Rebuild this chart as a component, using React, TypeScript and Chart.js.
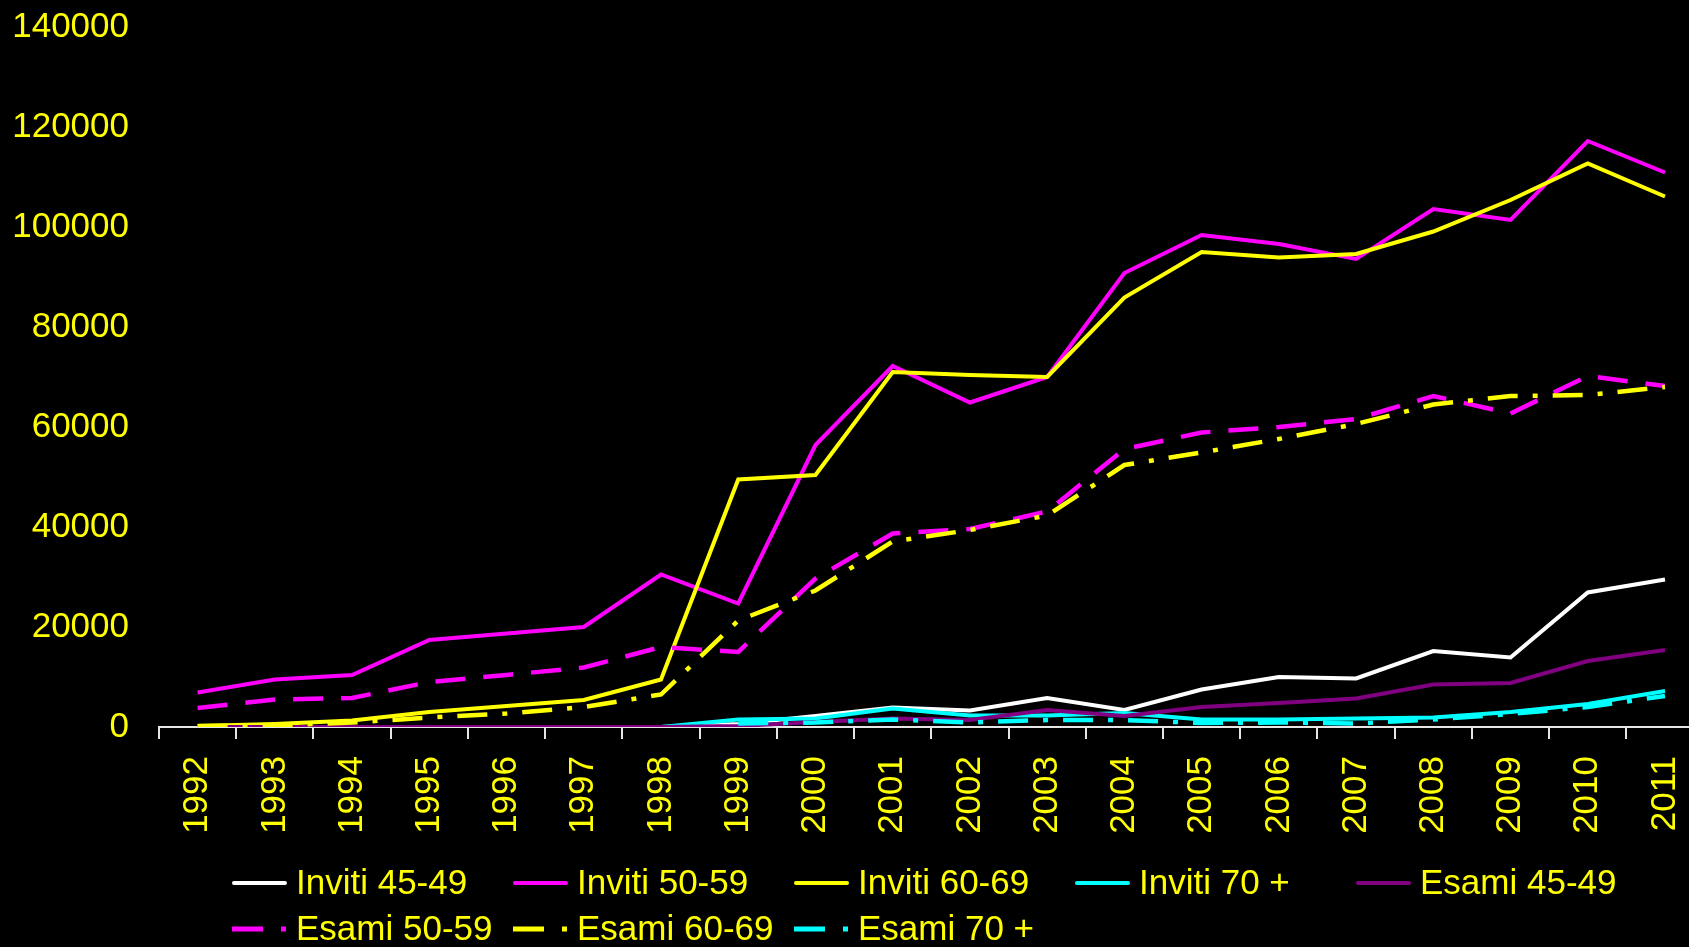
import React, { useEffect, useRef } from "react";
import { Chart, registerables } from "chart.js";

Chart.register(...registerables);

const years = ["1992","1993","1994","1995","1996","1997","1998","1999","2000","2001","2002","2003","2004","2005","2006","2007","2008","2009","2010","2011"];

const inviti4549 = [null, null, null, null, null, null, 0, 600, 2200, 3900, 3300, 5800, 3400, 7500, 10000, 9700, 15200, 13900, 26900, 29500];
const inviti5059 = [6900, 9500, 10400, 17400, 18700, 20000, 30500, 24700, 56400, 72200, 64900, 70000, 90800, 98400, 96600, 93600, 103600, 101400, 117200, 110900];
const inviti6069 = [200, 600, 1300, 3000, 4200, 5400, 9500, 49500, 50400, 71000, 70400, 70000, 85900, 95000, 93900, 94600, 99100, 105400, 112700, 106100];
const inviti70 = [null, null, null, null, null, null, 0, 1500, 1700, 3700, 2300, 2300, 2800, 1500, 1500, 1700, 1900, 3000, 4600, 7200];
const esami4549 = [0, 0, 0, 0, 0, 0, 0, 200, 1000, 1700, 1400, 3400, 2200, 4000, 4800, 5700, 8500, 8800, 13200, 15400];
const esami5059 = [3800, 5500, 5800, 9000, 10400, 11900, 16000, 15000, 29700, 38700, 39600, 43100, 55600, 58900, 60000, 61600, 66200, 62700, 70200, 68200];
const esami6069 = [200, 300, 900, 1900, 2700, 4000, 6500, 21300, 27300, 37100, 39400, 42300, 52400, 54900, 57600, 60600, 64500, 66200, 66400, 68000];
const esami70 = [null, null, null, null, null, null, null, 700, 900, 1500, 900, 1400, 1400, 800, 900, 700, 1500, 2600, 4000, 6200];

const seriesNames = ["Inviti 45-49", "Inviti 50-59", "Inviti 60-69", "Inviti 70 +", "Esami 45-49", "Esami 50-59", "Esami 60-69", "Esami 70 +"];
const yTickValues = [0, 20000, 40000, 60000, 80000, 100000, 120000, 140000];

const FONT = "'Liberation Sans', Arial, sans-serif";
const YELLOW = "#FFFF00";
const AXIS = "#E6E6E6";

const styles = [
  { color: "#FFFFFF", dash: [] as number[] },
  { color: "#FF00FF", dash: [] as number[] },
  { color: "#FFFF00", dash: [] as number[] },
  { color: "#00FFFF", dash: [] as number[] },
  { color: "#800080", dash: [] as number[] },
  { color: "#FF00FF", dash: [30, 18] },
  { color: "#FFFF00", dash: [30, 15, 5, 15] },
  { color: "#00FFFF", dash: [30, 15, 5, 15] },
];

const seriesData = [inviti4549, inviti5059, inviti6069, inviti70, esami4549, esami5059, esami6069, esami70];

const legendPlugin = {
  id: "customLegend",
  afterDraw(chart: any) {
    const ctx = chart.ctx as CanvasRenderingContext2D;
    const colX = [232, 513, 794, 1075, 1356];
    const rowY = [883, 929];
    ctx.save();
    seriesNames.forEach((name, i) => {
      const row = i < 5 ? 0 : 1;
      const col = i < 5 ? i : i - 5;
      const x = colX[col];
      const y = rowY[row];
      const st = styles[i];
      ctx.strokeStyle = st.color;
      if (st.dash.length === 0) {
        ctx.lineWidth = 4;
        ctx.lineCap = "round";
        ctx.beginPath();
        ctx.moveTo(x + 2, y);
        ctx.lineTo(x + 53, y);
        ctx.stroke();
      } else {
        ctx.lineWidth = 5;
        ctx.lineCap = "butt";
        ctx.beginPath();
        ctx.moveTo(x, y);
        ctx.lineTo(x + 31, y);
        ctx.moveTo(x + 49, y);
        ctx.lineTo(x + 54, y);
        ctx.stroke();
      }
      ctx.fillStyle = YELLOW;
      ctx.font = `35px ${FONT}`;
      ctx.textAlign = "left";
      ctx.textBaseline = "middle";
      ctx.fillText(name, x + 64, y + 1);
    });
    ctx.restore();
  },
};

export default function App() {
  const ref = useRef<HTMLCanvasElement>(null);

  useEffect(() => {
    if (!ref.current) return;
    const datasets = seriesNames.map((name, i) => ({
      label: name,
      data: seriesData[i],
      borderColor: styles[i].color,
      backgroundColor: styles[i].color,
      borderWidth: styles[i].dash.length ? 4.5 : 4,
      borderDash: styles[i].dash,
      pointRadius: 0,
      pointHoverRadius: 0,
      tension: 0,
      fill: false,
      spanGaps: false,
      order: 7 - i,
    }));

    const chart = new Chart(ref.current, {
      type: "line",
      data: { labels: years, datasets },
      options: {
        responsive: false,
        animation: false,
        events: [],
        layout: { padding: { top: 0, bottom: 110, left: 0, right: 0 } },
        plugins: {
          legend: { display: false },
          tooltip: { enabled: false },
        },
        scales: {
          x: {
            offset: true,
            grid: {
              display: true,
              drawOnChartArea: false,
              drawTicks: true,
              tickLength: 12,
              color: AXIS,
              lineWidth: 2,
              offset: true,
            },
            border: { display: true, color: AXIS, width: 2 },
            ticks: {
              color: YELLOW,
              font: { size: 35, family: FONT },
              minRotation: 90,
              maxRotation: 90,
              autoSkip: false,
              padding: 17,
            },
            afterFit: (s: any) => {
              s.height = 110;
            },
          },
          y: {
            min: 0,
            max: 140000,
            grid: { display: false, drawTicks: true, tickLength: 24 },
            border: { display: false },
            ticks: {
              color: YELLOW,
              font: { size: 35, family: FONT },
              padding: 6,
              callback: (v: any) => String(v),
            },
            afterBuildTicks: (s: any) => {
              s.ticks = yTickValues.map((v) => ({ value: v }));
            },
            afterFit: (s: any) => {
              s.width = 159;
            },
          },
        },
      },
      plugins: [legendPlugin],
    } as any);

    return () => chart.destroy();
  }, []);

  return (
    <div
      style={{
        position: "absolute",
        left: 0,
        top: 0,
        width: 1689,
        height: 947,
        overflow: "hidden",
        background: "#000",
      }}
    >
      <canvas ref={ref} width={1724} height={947} style={{ display: "block" }} />
    </div>
  );
}
